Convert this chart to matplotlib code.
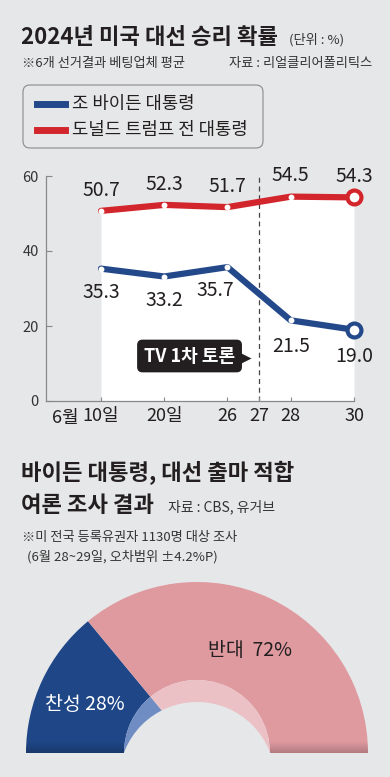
import numpy as np
import matplotlib.pyplot as plt
from matplotlib.patches import Wedge, Circle, FancyBboxPatch
from matplotlib.lines import Line2D

plt.rcParams['font.family'] = ['Noto Sans CJK KR', 'DejaVu Sans']

# 승리 확률 데이터 (단위 : %)
x_idx = [0, 1, 2, 3, 4]
biden = [35.3, 33.2, 35.7, 21.5, 19.0]
trump = [50.7, 52.3, 51.7, 54.5, 54.3]
debate_idx = 2.5
tick_idx = [0, 1, 2, 2.5, 3, 4]
tick_labels = ['10일', '20일', '26', '27', '28', '30']
y_ticks = [0, 20, 40, 60]

# 여론조사 데이터
poll_labels = ['찬성', '반대']
poll_values = [28, 72]

# 색상
bg = '#e6e7e8'
blue = '#24498a'
red = '#d2262c'
dark = '#231f20'
pink = '#df9aa0'
navy = '#1f4787'
light_pink = '#ecc1c6'
light_blue = '#6f8dc3'

fig = plt.figure(figsize=(3.9, 7.77), dpi=100, facecolor=bg)

# 전체 배경용 축 (픽셀 좌표)
bg_ax = fig.add_axes([0, 0, 1, 1])
bg_ax.set_facecolor(bg)
bg_ax.axis('off')

# 제목
bg_ax.text(21, 38, '2024년 미국 대선 승리 확률', fontsize=16, fontweight='bold',
           color=dark, va='center')
bg_ax.text(289, 40, '(단위 : %)', fontsize=9.5, color='#333333', va='center')
bg_ax.text(22, 63, '※6개 선거결과 베팅업체 평균', fontsize=9.5, color='#333333', va='center')
bg_ax.text(372, 63, '자료 : 리얼클리어폴리틱스', fontsize=9.5, color='#333333',
           va='center', ha='right')

# 범례
bg_ax.add_patch(FancyBboxPatch((23, 85), 240, 63, boxstyle='round,pad=0,rounding_size=7',
                               fc='none', ec='#8a8a8a', lw=0.8))
bg_ax.add_line(Line2D([37, 65], [104, 104], lw=5, color=blue))
bg_ax.add_line(Line2D([37, 65], [130, 130], lw=5, color=red))
bg_ax.text(72, 104, '조 바이든 대통령', fontsize=12.8, color=dark, va='center')
bg_ax.text(72, 130, '도널드 트럼프 전 대통령', fontsize=12.8, color=dark, va='center')

bg_ax.text(65, 418, '6월', fontsize=13, color=dark, va='center', ha='center')

# 두번째 제목
bg_ax.text(21, 473, '바이든 대통령, 대선 출마 적합', fontsize=16, fontweight='bold',
           color=dark, va='center')
bg_ax.text(21, 505, '여론 조사 결과', fontsize=16, fontweight='bold', color=dark, va='center')
bg_ax.text(168, 507, '자료 : CBS, 유거브', fontsize=10, color='#333333', va='center')
bg_ax.text(22, 538, '※미 전국 등록유권자 1130명 대상 조사', fontsize=9.5,
           color='#333333', va='center')
bg_ax.text(27, 557, '(6월 28~29일, 오차범위 ±4.2%P)', fontsize=9.5,
           color='#333333', va='center')

# 반원 도넛
cx, cy = 197, 753
r_out, r_in = 171, 73
split = 180 + poll_values[0] / sum(poll_values) * 180
w_yes = Wedge((cx, cy), r_out, 180, split, width=r_out - r_in, fc=navy, ec='none')
w_no = Wedge((cx, cy), r_out, split, 360, width=r_out - r_in, fc=pink, ec='none')
bg_ax.add_patch(w_yes)
bg_ax.add_patch(w_no)
bg_ax.add_patch(Wedge((cx, cy), r_in, 180, split, fc=light_blue, ec='none'))
bg_ax.add_patch(Wedge((cx, cy), r_in, split, 360, fc=light_pink, ec='none'))
bg_ax.add_patch(Circle((cx, cy + 27), 78, fc=bg, ec='none', zorder=3.5))

# 아래쪽 그림자
shade = np.zeros((40, 1, 4))
shade[:, 0, 3] = np.linspace(0, 0.2, 40)
for w in (w_yes, w_no):
    im = bg_ax.imshow(shade, extent=(0, 390, cy, cy - 12), aspect='auto',
                      origin='upper', zorder=3)
    im.set_clip_path(w)

bg_ax.text(85, 705, f'{poll_labels[0]} {poll_values[0]}%', fontsize=14, color='white',
           fontweight='medium', va='center', ha='center', zorder=4)
bg_ax.text(250, 650, f'{poll_labels[1]}  {poll_values[1]}%', fontsize=14, color=dark,
           fontweight='medium', va='center', ha='center', zorder=4)

bg_ax.set_xlim(0, 390)
bg_ax.set_ylim(777, 0)

# 꺾은선 그래프
ax = fig.add_axes([45.7 / 390, (777 - 401) / 777, (354 - 45.7) / 390, 62 * 3.75 / 777])
ax.set_facecolor('none')
ax.fill_between(x_idx, 0, trump, color='white', lw=0, zorder=0)
ax.plot([debate_idx, debate_idx], [0, 59.7], ls=(0, (4, 3)), color='#444444', lw=0.9,
        zorder=1)

for vals, col, dy in ((trump, red, 15), (biden, blue, -17)):
    ax.plot(x_idx, vals, color=col, lw=4.5, solid_capstyle='round',
            solid_joinstyle='round', zorder=3)
    ax.plot(x_idx[:-1], vals[:-1], 'o', ms=3.2, mfc='white', mec='white', zorder=4)
    ax.plot(x_idx[-1], vals[-1], 'o', ms=10, mfc='white', mec=col, mew=3,
            zorder=5, clip_on=False)
    for i, v in zip(x_idx, vals):
        dx = -9 if (col == blue and i == 2) else 0
        yoff = dy - (2 if (col == blue and i >= 3) else 0)
        ax.annotate(f'{v:.1f}', (i, v), xytext=(dx, yoff), textcoords='offset points',
                    ha='center', va='center', fontsize=14, color=dark)

# TV 토론 표시
ax.text(1.40, 12, 'TV 1차 토론', fontsize=13, fontweight='bold', color='white',
        ha='center', va='center', zorder=6,
        bbox=dict(boxstyle='round,pad=0.38,rounding_size=0.3', fc=dark, ec='none'))
ax.plot(2.27, 11.6, '>', ms=8, color=dark, mec='none', zorder=6)

ax.set_xlim(-0.874, 4)
ax.set_ylim(0, 62)
ax.set_xticks(tick_idx)
ax.set_xticklabels(tick_labels)
ax.set_yticks(y_ticks)
for s in ('top', 'right'):
    ax.spines[s].set_visible(False)
for s in ('left', 'bottom'):
    ax.spines[s].set_color('#888888')
    ax.spines[s].set_linewidth(0.9)
ax.spines['left'].set_bounds(0, 60)
ax.tick_params(axis='x', direction='in', length=3, color='#888888', labelsize=13,
               labelcolor=dark, pad=4)
ax.tick_params(axis='y', direction='in', length=4, color='#888888', labelsize=10.5,
               labelcolor='#333333', pad=5)

fig.savefig('out.png', dpi=100, facecolor=bg)
